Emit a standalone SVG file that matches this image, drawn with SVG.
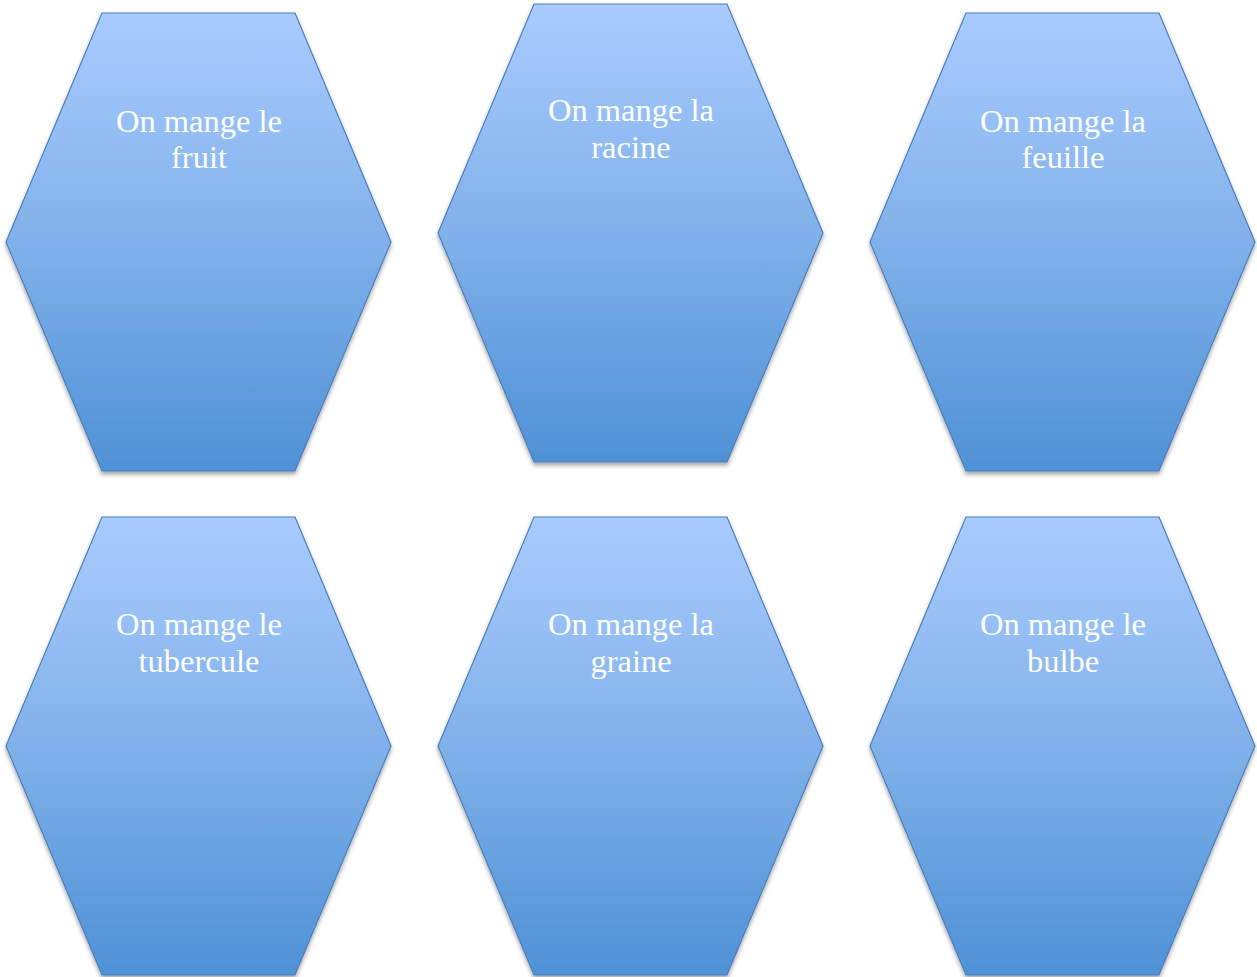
<svg xmlns="http://www.w3.org/2000/svg" width="1257" height="977" viewBox="0 0 1257 977">
<defs>
<linearGradient id="g" x1="0" y1="0" x2="0" y2="1">
<stop offset="0" stop-color="#a9cbfe"/>
<stop offset="0.5" stop-color="#80b1ea"/>
<stop offset="1" stop-color="#4f91d6"/>
</linearGradient>
<filter id="sh" x="-10%" y="-10%" width="120%" height="120%">
<feDropShadow dx="0" dy="3" stdDeviation="2" flood-color="#000" flood-opacity="0.35"/>
</filter>
<polygon id="hex" points="96,0 289,0 385,229 289,458 96,458 0,229"/>
</defs>
<style>
.h{fill:url(#g);stroke:#4a7ebb;stroke-width:1.2;filter:url(#sh)}
.t{font-family:"Liberation Serif","Times New Roman",serif;font-size:32.5px;fill:#ffffff;text-anchor:middle}
</style>
<g id="connectors"/>
<g id="n1" transform="translate(6,13)"><use href="#hex" class="h"/><text class="t" x="193" y="119">On mange le</text><text class="t" x="193" y="155">fruit</text></g>
<g id="n2" transform="translate(438,4)"><use href="#hex" class="h"/><text class="t" x="193" y="117">On mange la</text><text class="t" x="193" y="154">racine</text></g>
<g id="n3" transform="translate(870,13)"><use href="#hex" class="h"/><text class="t" x="193" y="119">On mange la</text><text class="t" x="193" y="155">feuille</text></g>
<g id="n4" transform="translate(6,517)"><use href="#hex" class="h"/><text class="t" x="193" y="118">On mange le</text><text class="t" x="193" y="155">tubercule</text></g>
<g id="n5" transform="translate(438,517)"><use href="#hex" class="h"/><text class="t" x="193" y="118">On mange la</text><text class="t" x="193" y="155">graine</text></g>
<g id="n6" transform="translate(870,517)"><use href="#hex" class="h"/><text class="t" x="193" y="118">On mange le</text><text class="t" x="193" y="155">bulbe</text></g>
</svg>
